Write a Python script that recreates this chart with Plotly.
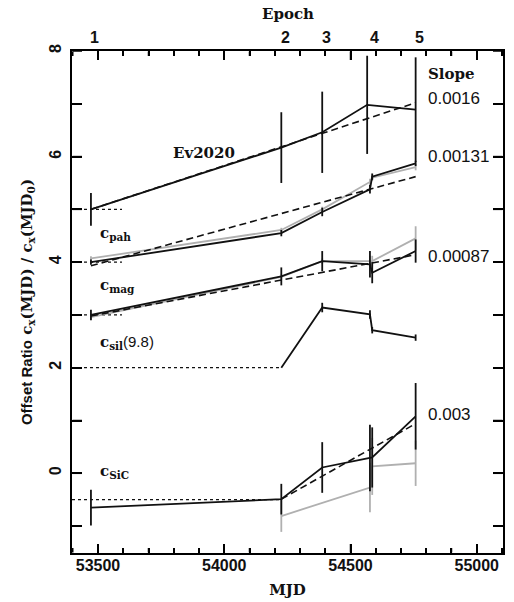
import plotly.graph_objects as go

# ---------------- data ----------------
mjd_ev = [53472, 54226, 54388, 54566, 54758]
ev2020 = [5.00, 6.17, 6.46, 6.98, 6.89]
ev2020_err = [0.31, 0.67, 0.77, 0.93, 0.99]

mjd_all = [53472, 54226, 54388, 54577, 54586, 54758]
pah_black = [4.00, 4.55, 4.95, 5.38, 5.62, 5.87]
pah_black_err = [0.05, 0.06, 0.08, 0.08, 0.06, 0.05]
pah_gray = [4.07, 4.61, 5.00, 5.52, 5.60, 5.80]
pah_gray_err = [0.04, 0.04, 0.05, 0.06, 0.06, 0.06]

mag_black = [3.00, 3.73, 4.02, 3.96, 3.80, 4.21]
mag_black_err = [0.10, 0.17, 0.19, 0.25, 0.20, 0.22]
mag_gray = [2.96, 3.72, 4.02, 4.02, 4.02, 4.45]
mag_gray_err = [0.05, 0.05, 0.05, 0.10, 0.10, 0.23]

mjd_sil = [54226, 54388, 54577, 54586, 54758]
sil_black = [2.00, 3.14, 3.01, 2.71, 2.57]
sil_black_err = [0.0, 0.09, 0.08, 0.06, 0.06]

sic_black = [-0.65, -0.49, 0.11, 0.29, 0.30, 1.08]
sic_black_err = [0.34, 0.29, 0.48, 0.63, 0.57, 0.63]
mjd_sic_gray = [54226, 54577, 54586, 54758]
sic_gray = [-0.81, -0.27, 0.13, 0.19]
sic_gray_err = [0.30, 0.47, 0.54, 0.43]

# dashed linear fits (end points)
fit_ev_x, fit_ev_y = [53472, 54758], [5.00, 7.02]
fit_pah_x, fit_pah_y = [53472, 54758], [3.93, 5.62]
fit_mag_x, fit_mag_y = [53472, 54758], [2.98, 4.14]
fit_sic_x, fit_sic_y = [54226, 54758], [-0.49, 0.94]

# dotted reference levels (level, end MJD)
ref_levels = [5.0, 4.0, 3.0, 2.0, -0.5]
ref_end_mjd = [53595, 53595, 53595, 54226, 54226]

slope_labels = ["0.0016", "0.00131", "0.00087", "0.003"]
slope_label_y = [7.10, 6.01, 4.10, 1.11]

epoch_labels = ["1", "2", "3", "4", "5"]
epoch_mjd = [53472, 54226, 54388, 54581, 54758]

XR = [53397, 55104]
YR = [-1.51, 8.0]

W, H = 514, 602
ML, MR, MT, MB = 72, 11, 51, 49

SERIF = "DejaVu Serif"
SANS = "Liberation Sans"
BLACK = "#111111"
GRAY = "#b0b0b0"
LW = 1.8

fig = go.Figure()


def add_series(x, y, err, color, width=LW):
    fig.add_trace(go.Scatter(
        x=x, y=y, mode="lines",
        line=dict(color=color, width=width),
        error_y=dict(type="data", array=err, visible=True, width=0,
                     thickness=width, color=color),
        showlegend=False, hoverinfo="skip"))


# reference dotted lines
for lev, xe in zip(ref_levels, ref_end_mjd):
    fig.add_trace(go.Scatter(x=[XR[0], xe], y=[lev, lev], mode="lines",
                             line=dict(color=BLACK, width=1.3, dash="dot"),
                             showlegend=False, hoverinfo="skip"))

# gray series
add_series(mjd_all, pah_gray, pah_gray_err, GRAY)
add_series(mjd_all, mag_gray, mag_gray_err, GRAY)
add_series(mjd_sic_gray, sic_gray, sic_gray_err, GRAY)

# dashed fits
for fx, fy in [(fit_ev_x, fit_ev_y), (fit_pah_x, fit_pah_y),
               (fit_mag_x, fit_mag_y), (fit_sic_x, fit_sic_y)]:
    fig.add_trace(go.Scatter(x=fx, y=fy, mode="lines",
                             line=dict(color=BLACK, width=1.6, dash="7px,4px"),
                             showlegend=False, hoverinfo="skip"))

# black series
add_series(mjd_ev, ev2020, ev2020_err, BLACK)
add_series(mjd_all, pah_black, pah_black_err, BLACK)
add_series(mjd_all, mag_black, mag_black_err, BLACK)
add_series(mjd_sil, sil_black, sil_black_err, BLACK)
add_series(mjd_all, sic_black, sic_black_err, BLACK)

# frame tick marks drawn as short segments anchored to the axis scales
dx_px = (XR[1] - XR[0]) / (W - ML - MR)
dy_px = (YR[1] - YR[0]) / (H - MT - MB)
x_tick_pos = list(range(53400, 55101, 100))
y_tick_pos = list(range(-1, 9))
tx, ty = [], []
for v in x_tick_pos:
    ln = 9 if v % 500 == 0 else 5
    tx += [v, v, None, v, v, None]
    ty += [YR[0] + 0.6 * dy_px, YR[0] + ln * dy_px, None,
           YR[1] - 0.6 * dy_px, YR[1] - ln * dy_px, None]
for v in y_tick_pos:
    tx += [XR[0] + 0.6 * dx_px, XR[0] + 10 * dx_px, None,
           XR[1] - 0.6 * dx_px, XR[1] - 10 * dx_px, None]
    ty += [v, v, None, v, v, None]
fig.add_trace(go.Scatter(x=tx, y=ty, mode="lines", connectgaps=False,
                         line=dict(color="black", width=1.5, simplify=False),
                         showlegend=False, hoverinfo="skip"))

# labels
name_font = dict(family=SERIF, size=15, color=BLACK, weight="bold")
fig.add_annotation(x=53920, y=6.06, text="Ev2020", showarrow=False,
                   font=name_font, xanchor="center", yanchor="middle")
for txt, yy in [("c<sub>pah</sub>", 4.54), ("c<sub>mag</sub>", 3.56),
                ("c<sub>sil</sub><span style='font-family:Liberation Sans;font-weight:normal'>(9.8)</span>", 2.48),
                ("c<sub>SiC</sub>", 0.03)]:
    fig.add_annotation(x=53500, y=yy, text=txt, showarrow=False,
                       font=name_font, xanchor="left", yanchor="middle")

fig.add_annotation(x=54800, y=7.56, text="Slope", showarrow=False,
                   font=name_font, xanchor="left", yanchor="middle")
for txt, yy in zip(slope_labels, slope_label_y):
    fig.add_annotation(x=54800, y=yy, text=txt, showarrow=False,
                       font=dict(family=SANS, size=17, color=BLACK),
                       xanchor="left", yanchor="middle")

# top epoch axis labels
for txt, xm in zip(epoch_labels, epoch_mjd):
    fig.add_annotation(x=xm, y=1, xref="x", yref="paper", text=txt,
                       showarrow=False, xshift=4, yshift=3,
                       font=dict(family=SANS, size=16, color=BLACK,
                                 weight="bold"),
                       xanchor="center", yanchor="bottom")
fig.add_annotation(x=0.5, y=1, xref="paper", yref="paper", text="Epoch",
                   showarrow=False, yshift=26,
                   font=dict(family=SERIF, size=15, color=BLACK, weight="bold"),
                   xanchor="center", yanchor="bottom")

ytitle = ("<span style='font-family:Liberation Sans'>Offset Ratio</span> "
          "c<sub>x</sub>(MJD) / c<sub>x</sub>(MJD<sub>0</sub>)")

fig.update_layout(
    width=W, height=H,
    margin=dict(l=ML, r=MR, t=MT, b=MB),
    paper_bgcolor="white", plot_bgcolor="white",
    xaxis=dict(
        range=XR, tickmode="linear", tick0=53500, dtick=500, tickformat="d",
        ticks="inside", ticklen=9, tickwidth=1.5, tickcolor="black",
        minor=dict(dtick=100, ticks="inside", ticklen=5,
                   tickwidth=1.5, tickcolor="black", showgrid=False),
        showline=True, linecolor="black", linewidth=1.5, mirror="allticks",
        showgrid=False, zeroline=False, automargin=False,
        ticklabelstandoff=-3, layer="above traces",
        tickfont=dict(family=SANS, size=16, color=BLACK, weight="bold"),
        title=dict(text="MJD",
                   font=dict(family=SERIF, size=15, color=BLACK,
                             weight="bold"),
                   standoff=12),
    ),
    yaxis=dict(
        range=YR, tickmode="linear", tick0=0, dtick=2,
        ticks="inside", ticklen=10, tickwidth=1.5, tickcolor="black",
        minor=dict(dtick=1, ticks="inside", ticklen=10,
                   tickwidth=1.5, tickcolor="black", showgrid=False),
        tickangle=-90, automargin=False, ticklabelstandoff=3,
        layer="above traces",
        showline=True, linecolor="black", linewidth=1.5, mirror="allticks",
        showgrid=False, zeroline=False,
        tickfont=dict(family=SANS, size=16, color=BLACK, weight="bold"),
        title=dict(text=ytitle,
                   font=dict(family=SERIF, size=15, color=BLACK,
                             weight="bold"),
                   standoff=11),
    ),
)

fig.write_html(
    "out.html",
    config={"displayModeBar": False},
    post_script="document.body.style.margin='0px';"
                "document.body.style.overflow='hidden';",
)
